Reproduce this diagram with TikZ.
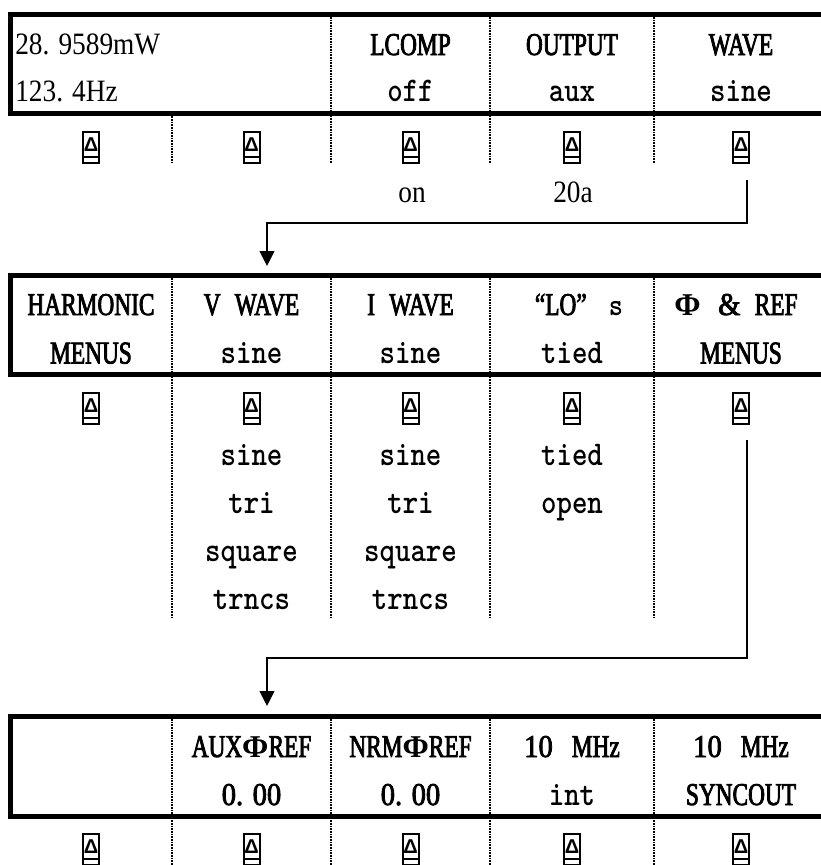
\documentclass[tikz,border=0pt]{standalone}
\usepackage{fontspec}
\setmainfont{Liberation Serif}
\newfontfamily\capfont[FakeStretch=0.735,FakeBold=2.5]{Liberation Serif}
\newfontfamily\numfont[FakeStretch=0.9,FakeBold=2.5]{Liberation Serif}
\newfontfamily\litefont[FakeStretch=0.88]{Liberation Serif}
\newfontfamily\valfont[FakeStretch=0.85]{lmmonolt10-bold.otf}
\newfontfamily\keyfont{Liberation Sans}
\newfontfamily\phifont{Liberation Serif}
\newcommand{\phisym}{{\phifont\bfseries Φ}}
\usetikzlibrary{arrows.meta}

\begin{document}
\begin{tikzpicture}[x=0.75pt, y=-0.75pt,
  frame/.style={line width=3.75pt},
  sep/.style={line width=2pt, dash pattern=on 1.3pt off 0.7pt},
  capword/.style={font=\capfont\fontsize{23.8}{24}\selectfont, anchor=base, inner sep=0pt},
  numword/.style={font=\numfont\fontsize{23.8}{24}\selectfont, anchor=base, inner sep=0pt},
  valword/.style={font=\valfont\fontsize{26}{26}\selectfont, anchor=base, inner sep=0pt},
  liteword/.style={font=\litefont\fontsize{23.3}{24}\selectfont, anchor=base, inner sep=0pt},
  keymark/.style={draw, line width=1.5pt, minimum width=12pt, minimum height=23pt,
    inner sep=0pt, font=\keyfont\bfseries\fontsize{15}{15}\selectfont,
    text height=10.5pt, text depth=4.5pt,
    path picture={\draw[line width=1.1pt]
      ([yshift=4.4pt]path picture bounding box.south west) --
      ([yshift=4.4pt]path picture bounding box.south east);}},
  link/.style={line width=1.2pt, -{Triangle[length=11.25pt,width=11pt]}}]

  \useasboundingbox (0,0) rectangle (821,865);

  % ---- panel 1: reading, LCOMP, OUTPUT, WAVE ----
  \foreach \x in {331,490,654} \draw[sep] (\x,17) -- (\x,163);
  \draw[sep] (172,113.5) -- (172,163);
  \draw[frame] (821,14.5) -| (10.5,113.5) -- (821,113.5);

  \node[liteword, anchor=base west] (pow) at (15,54.5) {28. 9589mW};
  \node[liteword, anchor=base west] (freq) at (15,101.5) {123. 4Hz};
  \node[capword] (lcomp) at (410.5,55) {LCOMP};
  \node[valword] (lcompval) at (410.5,101.5) {off};
  \node[capword] (output) at (572,55) {OUTPUT};
  \node[valword] (outputval) at (572,101.5) {aux};
  \node[capword] (wave) at (741,55) {WAVE};
  \node[valword] (waveval) at (741,101.5) {sine};

  \foreach \x/\i in {91/1,251.5/2,410.5/3,572/4,741/5}
    \node[keymark] (ka\i) at (\x,147.5) {Δ};

  \node[liteword] (lcompon) at (412,202) {on};
  \node[liteword] (output20a) at (573,202) {20a};

  % WAVE key opens the second menu
  \coordinate (wavetail) at (747,180);
  \coordinate (wavebend) at (747,223);
  \coordinate (wavehead) at (267,266);
  \draw[link] (wavetail) -- (wavebend) -| (wavehead);

  % ---- panel 2: wave menu ----
  \foreach \x in {172,331,490,654} \draw[sep] (\x,278) -- (\x,617);
  \draw[frame] (821,275) -| (10.5,374.5) -- (821,374.5);

  \node[capword] (harm) at (91,315) {HARMONIC};
  \node[capword] (harmval) at (91,363.5) {MENUS};
  \node[capword] (vwave) at (251.5,315) {V\hspace{0.45em}WAVE};
  \node[valword] (vwaveval) at (251.5,363.5) {sine};
  \node[capword] (iwave) at (410.5,315) {I\hspace{0.45em}WAVE};
  \node[valword] (iwaveval) at (410.5,363.5) {sine};
  \node[capword] (lows) at (579,315) {“LO”\hspace{0.7em}{\valfont s}};
  \node[valword] (lowsval) at (572,363.5) {tied};
  \node[capword] (phref) at (736,315) {\phisym\hspace{0.55em}{\numfont\&}\hspace{0.45em}REF};
  \node[capword] (phrefval) at (741,363.5) {MENUS};

  \foreach \x/\i in {91/1,251.5/2,410.5/3,572/4,741/5}
    \node[keymark] (kb\i) at (\x,408.5) {Δ};

  \foreach \y/\w in {465/sine,513/tri,561/square,609/trncs} {
    \node[valword] (vw\w) at (251.5,\y) {\w};
    \node[valword] (iw\w) at (410.5,\y) {\w};
  }
  \node[valword] (lotied) at (572,465) {tied};
  \node[valword] (loopen) at (572,513) {open};

  % phase & ref key opens the third menu
  \coordinate (reftail) at (747,440);
  \coordinate (refbend) at (747,658);
  \coordinate (refhead) at (267,706);
  \draw[link] (reftail) -- (refbend) -| (refhead);

  % ---- panel 3: phase & reference menu ----
  \foreach \x in {172,331,490,654} \draw[sep] (\x,719) -- (\x,865);
  \draw[frame] (821,716) -| (10.5,816) -- (821,816);

  \node[capword] (auxref) at (251.5,757) {AUX\phisym REF};
  \node[numword] (auxrefval) at (251.5,805) {0. 00};
  \node[capword] (nrmref) at (410.5,757) {NRM\phisym REF};
  \node[numword] (nrmrefval) at (410.5,805) {0. 00};
  \node[capword] (clkin) at (572,757) {{\numfont 10}\hspace{0.6em}MHz};
  \node[valword] (clkinval) at (572,805) {int};
  \node[capword] (clkout) at (741,757) {{\numfont 10}\hspace{0.6em}MHz};
  \node[capword] (clkoutval) at (741,805) {SYNCOUT};

  \foreach \x/\i in {91/1,251.5/2,410.5/3,572/4,741/5}
    \node[keymark] (kc\i) at (\x,849.5) {Δ};

\end{tikzpicture}
\end{document}
